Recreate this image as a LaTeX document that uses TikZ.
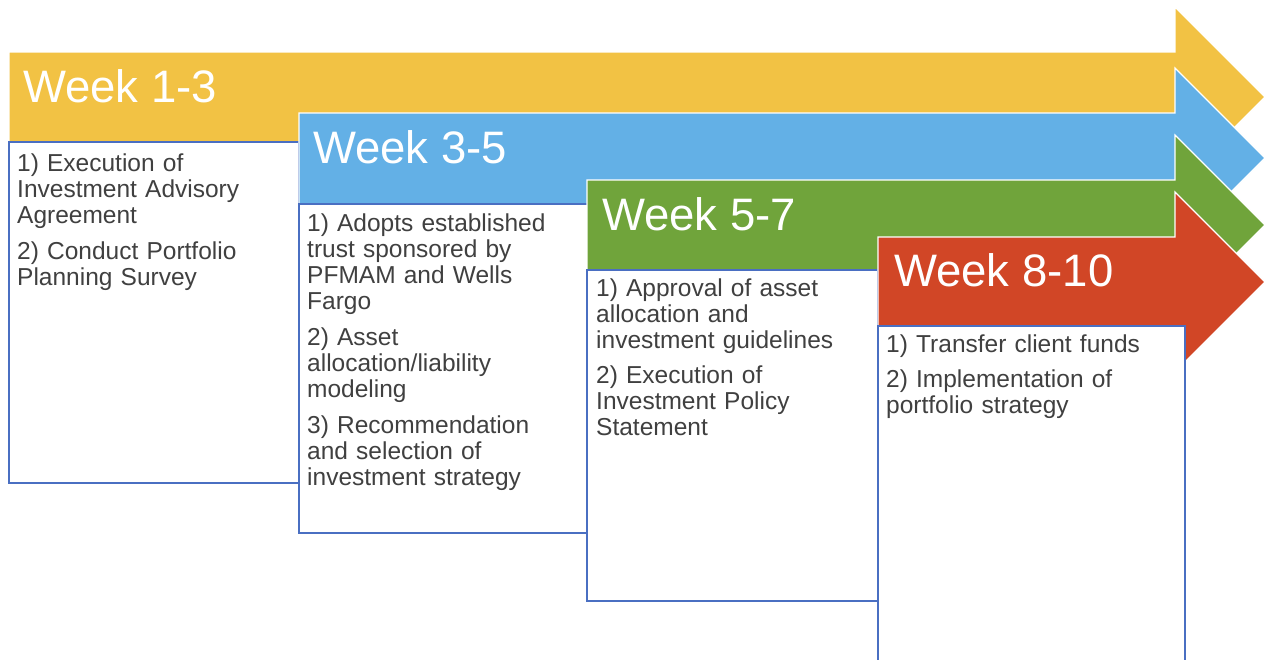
\documentclass[tikz,border=0pt]{standalone}
\usepackage{fontspec}
\setmainfont{Liberation Sans}
\definecolor{wyellow}{HTML}{F2C244}
\definecolor{wblue}{HTML}{63B0E6}
\definecolor{wgreen}{HTML}{70A43B}
\definecolor{wred}{HTML}{D14626}
\definecolor{boxblue}{HTML}{4A6FC2}
\definecolor{bodygray}{HTML}{404040}
\begin{document}
\begin{tikzpicture}[x=1pt,y=-1pt,
  arrowshape/.style={draw=white, line width=1.2pt, line join=miter},
  box/.style={draw=boxblue, line width=1.1pt, fill=white, anchor=north west,
              inner sep=0pt, outer sep=0pt},
  title/.style={text=white, font=\fontsize{45.5}{50}\selectfont, anchor=base west, inner sep=0pt},
  body/.style={text=bodygray, font=\fontsize{24.5}{26}\selectfont, anchor=base west,
               inner sep=0pt, text width=290pt, align=left}]
\useasboundingbox (0,0) rectangle (1265,659);

% --- Week 1-3 (yellow)
\filldraw[fill=wyellow, arrowshape] (9,52) -- (1175,52) -- (1175,7) -- (1265,97)
  -- (1175,187) -- (1175,142) -- (9,142) -- cycle;
\node[title] (t1) at (23,102) {Week 1-3};
\node[box, minimum width=290pt, minimum height=341pt] (b1) at (9,142) {};
\node[body] (x1) at (17,171) {1) Execution of\\Investment Advisory\\Agreement\\[10pt]2) Conduct Portfolio\\Planning Survey};

% --- Week 3-5 (blue)
\filldraw[fill=wblue, arrowshape] (299,113) -- (1175,113) -- (1175,68) -- (1265,158)
  -- (1175,248) -- (1175,204) -- (299,204) -- cycle;
\node[title] (t2) at (313,163) {Week 3-5};
\node[box, minimum width=289pt, minimum height=329pt] (b2) at (299,204) {};
\node[body] (x2) at (307,231) {1) Adopts established\\trust sponsored by\\PFMAM and Wells\\Fargo\\[10pt]2) Asset\\allocation/liability\\modeling\\[10pt]3) Recommendation\\and selection of\\investment strategy};

% --- Week 5-7 (green)
\filldraw[fill=wgreen, arrowshape] (587,180) -- (1175,180) -- (1175,135) -- (1265,225)
  -- (1175,315) -- (1175,270) -- (587,270) -- cycle;
\node[title] (t3) at (602,230) {Week 5-7};
\node[box, minimum width=291pt, minimum height=331pt] (b3) at (587,270) {};
\node[body] (x3) at (596,296) {1) Approval of asset\\allocation and\\investment guidelines\\[9pt]2) Execution of\\Investment Policy\\Statement};

% --- Week 8-10 (red)
\filldraw[fill=wred, arrowshape] (878,237) -- (1175,237) -- (1175,192) -- (1265,282)
  -- (1175,372) -- (1175,326) -- (878,326) -- cycle;
\node[title] (t4) at (894,286) {Week 8-10};
\node[box, minimum width=307pt, minimum height=345pt] (b4) at (878,326) {};
\node[body] (x4) at (886,352) {1) Transfer client funds\\[9pt]2) Implementation of\\portfolio strategy};
\end{tikzpicture}
\end{document}
